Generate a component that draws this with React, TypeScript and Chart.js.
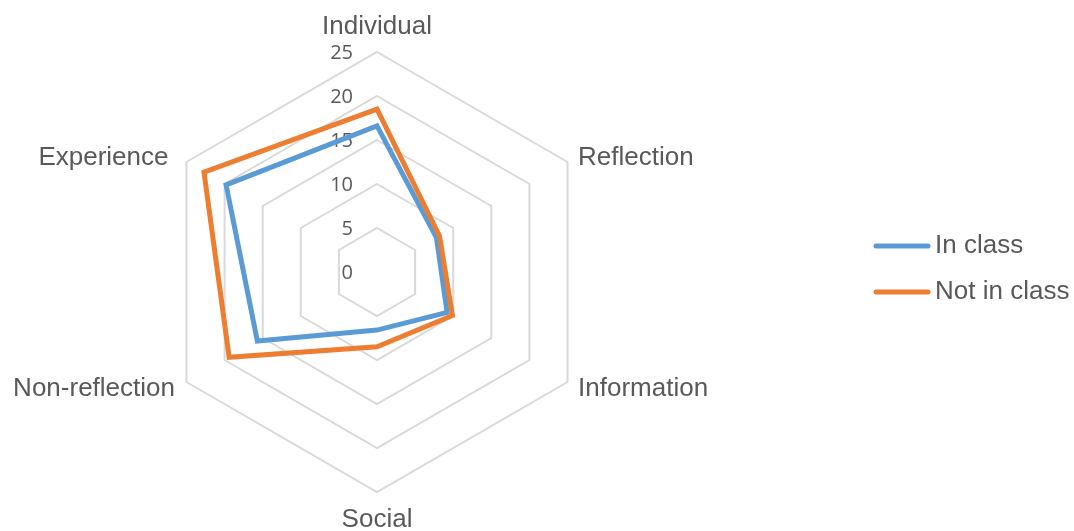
import React, { useEffect, useRef } from 'react';
import { Chart, registerables } from 'chart.js';

Chart.register(...registerables);

// ---- data ----
const categories = ['Individual', 'Reflection', 'Information', 'Social', 'Non-reflection', 'Experience'];
const seriesNames = ['In class', 'Not in class'];
const inClass = [16.6, 7.8, 9.2, 6.6, 15.7, 19.8];
const notInClass = [18.5, 8.2, 9.9, 8.5, 19.4, 22.7];
const tickValues = [0, 5, 10, 15, 20, 25];
const seriesColors = ['#5B9BD5', '#ED7D31'];

// ---- styles ----
const TEXT = '#595959';
const LABEL_FAMILY = '"Liberation Sans", Arial, sans-serif';
const LABEL_FONT = '26px ' + LABEL_FAMILY;
const TICK_FONT = '20px "Open Sans", sans-serif';
const LINE_W = 5;
const OFFSET_X = 108;
const CANVAS_W = 1074 + OFFSET_X;
const CANVAS_H = 531;

function lineSwatch(color: string) {
  const c = document.createElement('canvas');
  c.width = 58;
  c.height = 8;
  const g = c.getContext('2d')!;
  g.strokeStyle = color;
  g.lineWidth = LINE_W;
  g.lineCap = 'round';
  g.beginPath();
  g.moveTo(3, 4);
  g.lineTo(55, 4);
  g.stroke();
  return c;
}

const labelPlacement = [
  { d: 25, dx: 0, dy: 0, align: 'center' },
  { d: 0, dx: 10.5, dy: -4, align: 'left' },
  { d: 0, dx: 10.5, dy: 6.5, align: 'left' },
  { d: 28, dx: 0, dy: 0, align: 'center' },
  { d: 0, dx: -11.5, dy: 6.5, align: 'right' },
  { d: 0, dx: -18, dy: -4, align: 'right' },
];

const radarText = {
  id: 'radarText',
  beforeDatasetsDraw(chart: any) {
    const s = chart.scales.r;
    const ctx = chart.ctx;
    ctx.save();
    ctx.font = TICK_FONT;
    ctx.fillStyle = TEXT;
    ctx.textAlign = 'right';
    ctx.textBaseline = 'middle';
    tickValues.forEach((v) => {
      const p = s.getPointPosition(0, s.getDistanceFromCenterForValue(v));
      ctx.fillText(String(v), s.xCenter - 24, p.y + 1);
    });
    ctx.restore();
  },
  afterDatasetsDraw(chart: any) {
    const s = chart.scales.r;
    const ctx = chart.ctx;
    ctx.save();
    ctx.font = LABEL_FONT;
    ctx.fillStyle = TEXT;
    ctx.textBaseline = 'middle';
    (chart.data.labels as string[]).forEach((lab, i) => {
      const pl = labelPlacement[i];
      const p = s.getPointPosition(i, s.drawingArea + pl.d);
      ctx.textAlign = pl.align;
      ctx.fillText(lab, p.x + pl.dx, p.y + pl.dy);
    });
    ctx.restore();
  },
};

export default function App() {
  const ref = useRef<HTMLCanvasElement | null>(null);

  useEffect(() => {
    if (!ref.current) return;
    const swatches = seriesColors.map(lineSwatch);
    const chart = new Chart(ref.current, {
      type: 'radar',
      data: {
        labels: categories,
        datasets: [
          {
            label: seriesNames[0],
            data: inClass,
            borderColor: seriesColors[0],
            backgroundColor: seriesColors[0],
            borderWidth: LINE_W,
            pointRadius: 0,
            pointHoverRadius: 0,
            fill: false,
            order: 1,
          },
          {
            label: seriesNames[1],
            data: notInClass,
            borderColor: seriesColors[1],
            backgroundColor: seriesColors[1],
            borderWidth: LINE_W,
            pointRadius: 0,
            pointHoverRadius: 0,
            fill: false,
            order: 0,
          },
        ],
      },
      options: {
        responsive: false,
        animation: false,
        devicePixelRatio: 1,
        layout: { padding: { top: 52, bottom: 39, left: 0, right: 0 } },
        elements: { line: { tension: 0, borderJoinStyle: 'miter' } },
        scales: {
          r: {
            min: 0,
            max: 25,
            ticks: { display: false, stepSize: 5 },
            grid: { color: '#d9d9d9', lineWidth: 2 },
            angleLines: { display: false },
            pointLabels: { display: false },
          },
        },
        plugins: {
          legend: {
            position: 'right',
            align: 'start',
            maxWidth: 212,
            title: { display: true, text: '', padding: { top: 151, bottom: 0 }, font: { size: 10, lineHeight: 1 } },
            labels: {
              usePointStyle: true,
              pointStyleWidth: 40,
              padding: 20,
              color: TEXT,
              font: { family: LABEL_FAMILY, size: 26 },
              generateLabels: (c: any) =>
                (Chart.defaults.plugins.legend.labels.generateLabels as any)(c)
                  .map((it: any) => ({ ...it, pointStyle: swatches[it.datasetIndex] }))
                  .sort((a: any, b: any) => a.datasetIndex - b.datasetIndex),
            },
          },
          tooltip: { enabled: false },
        },
      } as any,
      plugins: [radarText],
    });
    return () => chart.destroy();
  }, []);

  return (
    <div style={{ position: 'fixed', left: 0, top: 0, width: 1074, height: 531, overflow: 'hidden', background: '#fff' }}>
      <div style={{ position: 'absolute', left: -OFFSET_X, top: 0, width: CANVAS_W, height: CANVAS_H }}>
        <canvas ref={ref} width={CANVAS_W} height={CANVAS_H} style={{ display: 'block' }} />
      </div>
    </div>
  );
}
